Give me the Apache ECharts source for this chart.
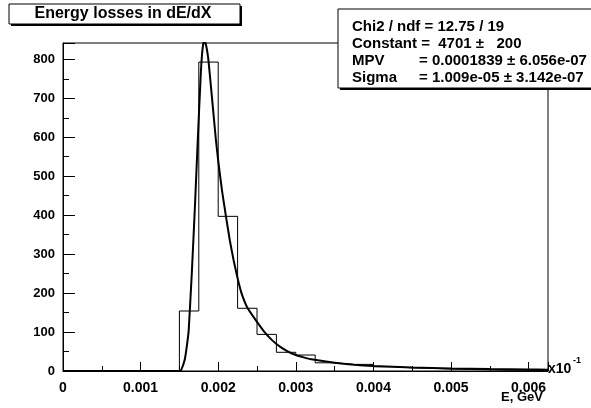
<!DOCTYPE html>
<html>
<head>
    <title>Energy losses in dE/dX</title>
    <script src="https://cdn.jsdelivr.net/npm/echarts@6/dist/echarts.min.js"></script>
    <style>
      body { margin: 0; background: #fff; }
    </style>
</head>
<body>
    <div id="chart" style="width: 591px; height: 408px;"></div>
    <script>
        // histogram: 25 bins of 0.00025 starting at 0
        var binStart = 0;
        var binWidth = 0.00025;
        var counts = [0, 0, 0, 0, 0, 0, 154, 793, 397, 161, 94, 48, 41, 21, 17, 17, 11, 8, 7, 5, 4, 3, 2, 2, 1];

        // fitted curve
        var fitX = [0, 0.0015, 0.00152, 0.00157, 0.0016, 0.00162, 0.00166, 0.0017, 0.001737, 0.001776, 0.0018, 0.00182,
                    0.00184, 0.00187, 0.00189, 0.00193, 0.00197, 0.002, 0.00205, 0.0021, 0.00215, 0.0022, 0.00225,
                    0.0023, 0.00238, 0.0025, 0.0026, 0.0027, 0.0028, 0.0029, 0.003, 0.0031, 0.0032, 0.0035, 0.00375,
                    0.004, 0.0045, 0.005, 0.0055, 0.006, 0.00625];
        var fitY = [0, 0, 1, 30, 70, 105, 252, 422, 594, 765, 830, 848,
                    840, 805, 765, 680, 594, 540, 462, 397, 335, 283, 238,
                    200, 161, 126, 99, 78, 62, 50, 41, 35, 30, 21, 16,
                    13, 9, 6.5, 5, 4, 3.5];

        var xTickLabels = ['0', '0.001', '0.002', '0.003', '0.004', '0.005', '0.006'];
        var yTickLabels = ['0', '100', '200', '300', '400', '500', '600', '700', '800'];

        var titleText = 'Energy losses in dE/dX';
        var statsNames = ['Chi2 / ndf = 12.75 / 19', 'Constant =  4701 \u00b1   200', 'MPV', 'Sigma'];
        var statsValues = ['', '', '= 0.0001839 \u00b1 6.056e-07', '= 1.009e-05 \u00b1 3.142e-07'];

        var font = '"Liberation Sans", Arial, Helvetica, sans-serif';

        // build step outline from bins
        var histData = [];
        for (var i = 0; i < counts.length; i++) {
          histData.push([binStart + i * binWidth, counts[i]]);
        }
        histData.push([binStart + counts.length * binWidth, counts[counts.length - 1]]);

        var fitData = fitX.map(function (x, i) { return [x, fitY[i]]; });

        var chart = echarts.init(document.getElementById('chart'));

        // stats box text
        var statsEls = [];
        var lineY = [27, 44, 61, 78];
        for (var k = 0; k < statsNames.length; k++) {
          statsEls.push({
            type: 'text', x: 352, y: lineY[k],
            style: { text: statsNames[k], font: 'bold 15px ' + font, fill: '#000', verticalAlign: 'middle' }
          });
          if (statsValues[k]) {
            statsEls.push({
              type: 'text', x: 419, y: lineY[k],
              style: { text: statsValues[k], font: 'bold 15px ' + font, fill: '#000', verticalAlign: 'middle' }
            });
          }
        }

        var option = {
          animation: false,
          grid: {
            left: 63, right: 43, top: 43, bottom: 37,
            show: true, borderColor: '#000', borderWidth: 1, backgroundColor: '#fff'
          },
          xAxis: {
            type: 'value', min: 0, max: 0.00625, interval: 0.001,
            axisLine: { lineStyle: { color: '#000', width: 1 } },
            axisTick: { inside: true, length: 9, lineStyle: { color: '#000' } },
            minorTick: { show: true, splitNumber: 2, length: 5, lineStyle: { color: '#000' } },
            splitLine: { show: false },
            axisLabel: {
              color: '#000', fontWeight: 'bold', fontSize: 14, fontFamily: font, margin: 5,
              showMaxLabel: false,
              formatter: function (v, idx) { return xTickLabels[idx] || ''; }
            }
          },
          yAxis: {
            type: 'value', min: 0, max: 842, interval: 100,
            axisLine: { show: true, lineStyle: { color: '#000', width: 1 } },
            axisTick: { show: true, inside: true, length: 12, lineStyle: { color: '#000' } },
            minorTick: { show: true, splitNumber: 2, length: 6, lineStyle: { color: '#000' } },
            splitLine: { show: false },
            axisLabel: {
              color: '#000', fontWeight: 'bold', fontSize: 13, fontFamily: font, margin: 8,
              showMaxLabel: false,
              formatter: function (v, idx) { return yTickLabels[idx] || ''; }
            }
          },
          series: [
            {
              type: 'line', step: 'end', data: histData, symbol: 'none',
              lineStyle: { color: '#000', width: 1 }, z: 2
            },
            {
              type: 'line', data: fitData, symbol: 'none', smooth: 0.15,
              lineStyle: { color: '#000', width: 2 }, z: 3
            }
          ],
          graphic: [
            // title box with shadow
            { type: 'rect', shape: { x: 11, y: 6, width: 231, height: 20 }, style: { fill: '#000' } },
            { type: 'rect', shape: { x: 9, y: 4, width: 231, height: 20 }, style: { fill: '#fff', stroke: '#000', lineWidth: 1 } },
            {
              type: 'text', x: 123, y: 14,
              style: { text: titleText, font: 'bold 16px ' + font, fill: '#000', align: 'center', verticalAlign: 'middle' }
            },
            // stats box with shadow
            { type: 'rect', shape: { x: 340, y: 11, width: 270, height: 79 }, style: { fill: '#000' } },
            { type: 'rect', shape: { x: 338, y: 9, width: 270, height: 79 }, style: { fill: '#fff', stroke: '#000', lineWidth: 1 } }
          ].concat(statsEls).concat([
            {
              type: 'text', x: 543, y: 397,
              style: { text: 'E, GeV', font: 'bold 13px ' + font, fill: '#000', align: 'right', verticalAlign: 'middle' }
            },
            {
              type: 'text', x: 548, y: 369,
              style: { text: 'x10', font: 'bold 14px ' + font, fill: '#000', verticalAlign: 'middle' }
            },
            {
              type: 'text', x: 573, y: 361,
              style: { text: '-1', font: 'bold 9px ' + font, fill: '#000', verticalAlign: 'middle' }
            }
          ])
        };
        chart.setOption(option);
    </script>
</body>
</html>
